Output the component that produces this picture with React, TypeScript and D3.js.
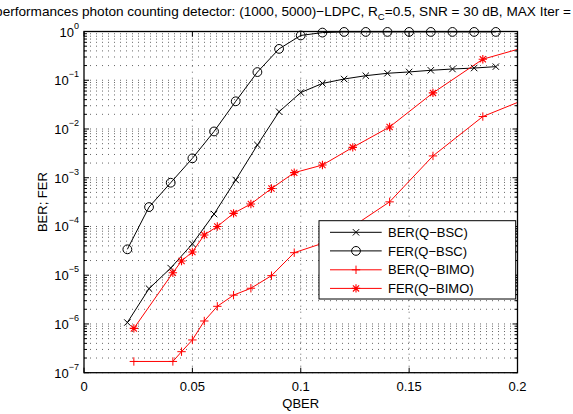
import React from "react";
import * as d3 from "d3";

const qberBSC = [0.02, 0.03, 0.04, 0.05, 0.06, 0.07, 0.08, 0.09, 0.1, 0.11, 0.12, 0.13, 0.14, 0.15, 0.16, 0.17, 0.18, 0.19];
const berBSC = [1.07e-6, 5.3e-6, 1.4e-5, 4.4e-5, 1.8e-4, 9e-4, 4.7e-3, 2.26e-2, 5.6e-2, 8.6e-2, 0.106, 0.124, 0.139, 0.148, 0.16, 0.17, 0.178, 0.19];
const ferBSC = [3.4e-5, 2.5e-4, 7.9e-4, 2.5e-3, 8.9e-3, 3.7e-2, 0.147, 0.44, 0.83, 0.95, 0.98, 0.98, 0.98, 0.98, 0.98, 0.98, 0.98, 0.98];

const qberBIMO = [0.023, 0.041, 0.045, 0.05, 0.0555, 0.0615, 0.069, 0.077, 0.0865, 0.097, 0.11, 0.124, 0.141, 0.161, 0.184, 0.2];
const berBIMO = [1.7e-7, 1.7e-7, 2.7e-7, 4.7e-7, 1.15e-6, 2.3e-6, 3.9e-6, 5.4e-6, 9.8e-6, 2.9e-5, 4.5e-5, 1.0e-4, 3.2e-4, 2.8e-3, 1.8e-2, 3.5e-2];
const ferBIMO = [8.1e-7, 1.12e-5, 1.96e-5, 3.0e-5, 6.7e-5, 1.0e-4, 1.86e-4, 2.9e-4, 6.0e-4, 1.27e-3, 1.82e-3, 4.2e-3, 1.1e-2, 5.5e-2, 0.27, 0.43];

const xTicks = [0, 0.05, 0.1, 0.15, 0.2];
const xTickLabels = ["0", "0.05", "0.1", "0.15", "0.2"];
const yExponents = [0, -1, -2, -3, -4, -5, -6, -7];
const legendLabels = ["BER(Q\u2212BSC)", "FER(Q\u2212BSC)", "BER(Q\u2212BIMO)", "FER(Q\u2212BIMO)"];

const W = 573;
const H = 414;
const L = 84, R = 517.5, T = 31.5, B = 372.7;
const FONT = "'Liberation Sans', Arial, Helvetica, sans-serif";
const FS = 13;

type MarkerKind = "x" | "o" | "+" | "*";

function Marker({ kind, cx, cy, color }: { kind: MarkerKind; cx: number; cy: number; color: string }) {
  const s = 3.2;
  const p = 4.2;
  if (kind === "o") return <circle cx={cx} cy={cy} r={4.4} fill="none" stroke={color} strokeWidth={1} />;
  if (kind === "x")
    return (
      <path d={`M${cx - s},${cy - s}L${cx + s},${cy + s}M${cx - s},${cy + s}L${cx + s},${cy - s}`} stroke={color} strokeWidth={1} />
    );
  if (kind === "+")
    return <path d={`M${cx - p},${cy}L${cx + p},${cy}M${cx},${cy - p}L${cx},${cy + p}`} stroke={color} strokeWidth={1} />;
  const d = 3.1;
  return (
    <path
      d={`M${cx - p},${cy}L${cx + p},${cy}M${cx},${cy - p}L${cx},${cy + p}M${cx - d},${cy - d}L${cx + d},${cy + d}M${cx - d},${cy + d}L${cx + d},${cy - d}`}
      stroke={color}
      strokeWidth={1.1}
    />
  );
}

export default function App() {
  const x = d3.scaleLinear().domain([0, 0.2]).range([L, R]);
  const y = d3.scaleLog().domain([1e-7, 1]).range([B, T]);

  const series = [
    { xs: qberBSC, ys: berBSC, color: "#000", kind: "x" as MarkerKind },
    { xs: qberBSC, ys: ferBSC, color: "#000", kind: "o" as MarkerKind },
    { xs: qberBIMO, ys: berBIMO, color: "#ff0000", kind: "+" as MarkerKind },
    { xs: qberBIMO, ys: ferBIMO, color: "#ff0000", kind: "*" as MarkerKind },
  ];

  const line = (xs: number[], ys: number[]) =>
    d3
      .line<number>()
      .x((_, i) => x(xs[i]))
      .y((v) => y(v))(ys) || "";

  const minor: number[] = [];
  for (let e = -7; e < 0; e++) for (let m = 2; m <= 9; m++) minor.push(m * Math.pow(10, e));
  const majors = yExponents.map((e) => Math.pow(10, e));

  const gridStyle = { stroke: "#555", strokeWidth: 0.9, strokeDasharray: "1 5" };

  const legX = 319, legY = 220.7, legW = 196.7, legH = 78.3;
  const legRows = [232.3, 250.9, 269.8, 288.4];

  return (
    <svg width={W} height={H} style={{ position: "absolute", left: 0, top: 0, background: "#fff" }} fontFamily={FONT}>
      <rect x={0} y={0} width={W} height={H} fill="#fff" />
      <defs>
        <clipPath id="plotclip">
          <rect x={L} y={T - 6} width={R - L} height={B - T + 6} />
        </clipPath>
      </defs>
      {/* grid */}
      {[...majors, ...minor].map((v, i) => (
        <line key={"hg" + i} x1={L} x2={R} y1={y(v)} y2={y(v)} {...gridStyle} />
      ))}
      {xTicks.slice(1, -1).map((v, i) => (
        <line key={"vg" + i} x1={x(v)} x2={x(v)} y1={B} y2={T} {...gridStyle} />
      ))}

      {/* series */}
      <g clipPath="url(#plotclip)">
        {series.map((s, si) => (
          <path key={"l" + si} d={line(s.xs, s.ys)} fill="none" stroke={s.color} strokeWidth={1} />
        ))}
        {series.map((s, si) =>
          s.ys.map((v, i) =>
            s.xs[i] < 0.199 ? <Marker key={`m${si}-${i}`} kind={s.kind} cx={x(s.xs[i])} cy={y(v)} color={s.color} /> : null
          )
        )}
      </g>

      {/* axes box */}
      <rect x={L} y={T} width={R - L} height={B - T} fill="none" stroke="#000" strokeWidth={1.3} />
      {/* x ticks */}
      {xTicks.map((v, i) => (
        <g key={"xt" + i}>
          <line x1={x(v)} x2={x(v)} y1={B} y2={B - 5} stroke="#000" />
          <line x1={x(v)} x2={x(v)} y1={T} y2={T + 5} stroke="#000" />
          <text x={x(v)} y={391} fontSize={FS} textAnchor="middle" fill="#000">
            {xTickLabels[i]}
          </text>
        </g>
      ))}
      {/* y ticks */}
      {majors.map((v, i) => (
        <g key={"yt" + i}>
          <line x1={L} x2={L + 5} y1={y(v)} y2={y(v)} stroke="#000" />
          <line x1={R} x2={R - 5} y1={y(v)} y2={y(v)} stroke="#000" />
          <text x={79} y={y(v) + 5} fontSize={FS} textAnchor="end" fill="#000">
            10
            <tspan fontSize={9} dy={-8}>
              {yExponents[i] === 0 ? "0" : "\u2212" + Math.abs(yExponents[i])}
            </tspan>
          </text>
        </g>
      ))}
      {minor.map((v, i) => (
        <g key={"ym" + i}>
          <line x1={L} x2={L + 3} y1={y(v)} y2={y(v)} stroke="#000" />
          <line x1={R} x2={R - 3} y1={y(v)} y2={y(v)} stroke="#000" />
        </g>
      ))}

      {/* axis labels */}
      <text x={(L + R) / 2} y={408} fontSize={FS} textAnchor="middle" fill="#000">
        QBER
      </text>
      <text transform={`translate(47,${(T + B) / 2}) rotate(-90)`} fontSize={FS} textAnchor="middle" fill="#000">
        BER; FER
      </text>

      {/* title */}
      <text x={571} y={16} fontSize={13.6} textAnchor="end" fill="#000">
        performances photon counting detector: (1000, 5000){"\u2212"}LDPC, R
        <tspan fontSize={9.5} dy={4}>C</tspan>
        <tspan dy={-4}>=0.5, SNR = 30 dB, MAX Iter =</tspan>
      </text>

      {/* legend */}
      <rect x={legX} y={legY} width={legW} height={legH} fill="#fff" stroke="#000" strokeWidth={1} />
      {series.map((s, i) => (
        <g key={"lg" + i}>
          <line x1={330} x2={381.7} y1={legRows[i]} y2={legRows[i]} stroke={s.color} strokeWidth={1} />
          <Marker kind={s.kind} cx={356} cy={legRows[i]} color={s.color} />
          <text x={388} y={legRows[i] + 4.6} fontSize={FS} fill="#000">
            {legendLabels[i]}
          </text>
        </g>
      ))}
    </svg>
  );
}
